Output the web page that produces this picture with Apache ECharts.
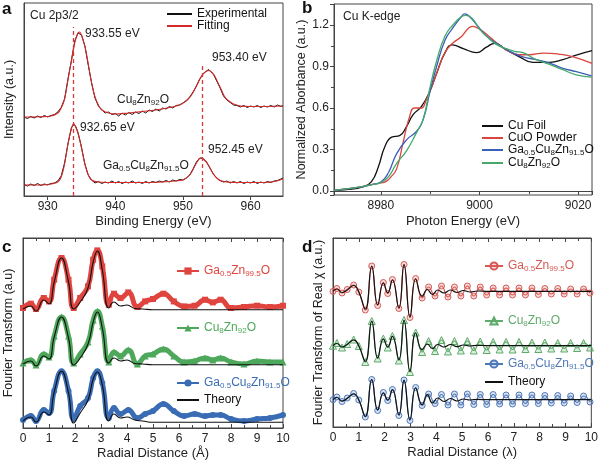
<!DOCTYPE html>
<html><head><meta charset="utf-8">
<script src="https://cdn.jsdelivr.net/npm/echarts@6/dist/echarts.min.js"></script>
<style>html,body{margin:0;padding:0;background:#fff}#c{width:601px;height:462px}</style>
</head><body><div id="c"></div>
<script>
// ---------- Panel a : XPS Cu 2p (binding energy eV, intensity a.u.) ----------
const aExpUpper = [[926.5,79],[927,77.5],[927.5,79.5],[928,78],[928.5,80],[929,78.5],[929.5,80.5],[930,79],[930.5,80.5],[931,81.5],[931.5,84],[932,88.5],[932.5,97],[933,117],[933.5,135],[934,155],[934.5,163],[934.7,164.5],[935,161],[935.5,150],[936,131],[936.5,113],[937,98],[937.5,90],[938,86.5],[938.5,83],[939,84],[939.5,81.5],[940,82.5],[940.5,80],[941,83],[941.5,81],[942,83.5],[942.5,81.5],[943,84],[943.5,82.5],[944,85],[944.5,83],[945,86],[945.5,84.5],[946,87],[946.5,85],[947,88],[947.5,87],[948,89.5],[948.5,88],[949,90.5],[949.5,91],[950,93],[950.5,95.5],[951,99],[951.5,104],[952,110],[952.5,117],[953,122.5],[953.5,125],[953.8,126.5],[954,124.5],[954.5,122],[955,115],[955.5,108],[956,100],[956.5,96],[957,93.5],[957.5,91],[958,90.5],[958.5,89],[959,90.5],[959.5,88.5],[960,90],[960.5,89],[961,90.5],[961.5,88.5],[962,90],[962.5,89],[963,90.5],[963.5,89],[964,91],[964.5,89.5],[964.8,90.5]];
const aFitUpper = [[926.5,79],[929,79.3],[930.5,80],[931.5,83],[932,88],[932.5,97],[933,116],[933.5,135],[934,153],[934.4,162],[934.7,164],[935,161],[935.5,150],[936,132],[936.5,113],[937,99],[937.5,91],[938,86],[939,83],[940,82],[942,83],[944,84.5],[946,86],[948,88.5],[949.5,91],[950.5,95],[951,98.5],[951.5,103.5],[952,110],[952.5,117],[953,122],[953.5,125],[953.8,125.5],[954.2,124],[954.7,120],[955.2,113],[955.7,106],[956.2,99],[956.8,95],[957.5,92],[958.5,90],[960,89.5],[964.8,90]];
const aExpLower = [[926.5,11.5],[927,10],[927.5,12],[928,10.5],[928.5,12.5],[929,10.5],[929.5,12],[930,11],[930.5,12.5],[931,13],[931.5,15],[932,20],[932.5,33],[933,52],[933.5,68],[933.85,72.5],[934.2,69],[934.5,63],[935,49],[935.5,32],[936,21],[936.5,16],[937,13],[937.5,14.5],[938,12.5],[938.5,14],[939,13],[939.5,15],[940,13],[940.5,14.5],[941,12.5],[941.5,14],[942,13],[942.5,15],[943,13],[943.5,14],[944,12.5],[944.5,14.5],[945,13],[945.5,14.5],[946,13.5],[946.5,15],[947,14],[947.5,15.5],[948,14],[948.5,16],[949,15],[949.5,16.5],[950,16],[950.5,18],[951,21],[951.5,27],[952,34],[952.5,38],[952.7,38.5],[953,37.5],[953.5,34],[954,28],[954.5,22],[955,18],[955.5,15.5],[956,14],[956.5,15],[957,13],[957.5,14.5],[958,13],[958.5,14.5],[959,12.5],[959.5,14],[960,13],[960.5,14.5],[961,12.5],[961.5,14],[962,13],[962.5,14.5],[963,13.5],[963.5,15],[964,15.5],[964.5,17],[964.8,18]];
const aFitLower = [[926.5,11],[929,11],[930.5,12],[931.5,14],[932,19],[932.5,32],[933,52],[933.5,67],[933.85,72],[934.2,68],[934.6,60],[935,48],[935.5,32],[936,21],[936.5,16],[937.5,14],[940,13.5],[945,13.5],[948,14.5],[950,16],[950.5,18],[951,21],[951.5,26.5],[952,33],[952.4,37],[952.7,38],[953,37],[953.5,33.5],[954,28],[954.5,22],[955,18],[955.5,15.5],[956.5,14],[958,13.5],[962,13.5],[963.5,14.5],[964.8,17]];
const aDashX = [933.85, 952.8];
const aDashTop = [169, 133];

// ---------- Panel b : Cu K-edge XANES ----------
const bCuFoil = [[8970.5,0.005],[8973,0.01],[8976.4,0.03],[8978.1,0.067],[8979.5,0.176],[8980.8,0.32],[8982.2,0.39],[8983.8,0.40],[8985.2,0.465],[8986.5,0.55],[8988.2,0.61],[8989.9,0.72],[8991.3,0.85],[8993,1.0],[8994.5,1.056],[8996.7,1.03],[8999.4,1.0],[9001.4,1.04],[9003.1,1.068],[9005.4,1.02],[9008.1,0.97],[9010.8,0.93],[9014.2,0.93],[9016.9,0.95],[9019.6,0.983],[9022.8,1.015]];
const bCuO = [[8970.5,0.005],[8973,0.015],[8976,0.03],[8978.5,0.05],[8980,0.058],[8981,0.068],[8982,0.1],[8983.2,0.16],[8984.5,0.35],[8985.8,0.535],[8986.8,0.6],[8988.2,0.6],[8989.2,0.66],[8990.5,0.77],[8991.5,0.87],[8993,1.0],[8994.6,1.07],[8996.3,1.115],[8997.7,1.175],[8998.6,1.19],[9000,1.17],[9002,1.115],[9004,1.055],[9006,1.01],[9008,0.985],[9010,0.985],[9013,0.997],[9016,0.99],[9019,0.97],[9022.8,0.923]];
const bGaCuZn = [[8970.5,0.005],[8973,0.015],[8976,0.03],[8978,0.045],[8980,0.065],[8981.5,0.13],[8983.2,0.27],[8985.2,0.37],[8987.2,0.43],[8988.6,0.52],[8989.9,0.71],[8991.3,0.9],[8993,1.09],[8994.6,1.18],[8996.3,1.26],[8997,1.28],[8998,1.26],[8999.7,1.19],[9001.4,1.12],[9003.4,1.07],[9006.1,1.01],[9008.8,0.97],[9011.5,0.95],[9014.2,0.925],[9016.9,0.887],[9019.6,0.863],[9022.7,0.832]];
const bCuZn = [[8970.5,0.005],[8973,0.015],[8976,0.03],[8978,0.045],[8980,0.06],[8981.5,0.1],[8983.2,0.2],[8985.2,0.29],[8987.2,0.42],[8988.6,0.52],[8989.9,0.74],[8991.3,0.94],[8993,1.12],[8994.6,1.2],[8996.3,1.26],[8997.3,1.27],[8998.7,1.24],[9000,1.17],[9001.7,1.11],[9003.4,1.06],[9005.4,1.03],[9007.1,1.01],[9008.8,1.0],[9011.5,0.95],[9014.2,0.915],[9016.9,0.877],[9019.6,0.84],[9022.7,0.823]];

// ---------- Panel c : Fourier transform magnitude (offset curves) ----------
const cX = [0,0.3,0.5,0.8,1.0,1.2,1.48,1.75,1.95,2.2,2.5,2.7,2.86,3.05,3.3,3.5,3.75,4.05,4.4,4.7,5.0,5.4,5.8,6.2,6.6,7.0,7.3,7.6,8.0,8.5,9.0,9.5,10];
const cGaZn = [120,124.3,119,130,126.6,148.3,170,148.3,120,130,141.6,168.3,177.6,161.6,123.3,134.3,130,135.6,121,126.6,129,134.3,126.6,121.6,122.3,128.3,125.6,128.3,120,121,122.3,121,122.3];
const cCuZn = [65,68,63,74,71,92,111,92,65,74,86,108,116.7,102,66,76,72,78,64,72,74,79,72,66,67,70,68,70,66,64,67,66,66];
const cGaCuZn = [8,12,7,18,15,37,56.7,37,9,22,30,50,56.7,45,10,20,14,18,10,14,17,24,17,12,14,12,13,13,9,7,9,10,13];
const cTX = [0,0.3,0.5,0.8,1.0,1.2,1.48,1.75,1.95,2.2,2.5,2.7,2.86,3.05,3.3,3.5,3.75,4.0,4.3,4.6,5.0,10];
const cThGaZn = [119,122,117,128,124,146,170,146,119,126,140,166,177,158,120,126,122,123,119.5,119,118.3,118.3];
const cThCuZn = [64,67,62,72,69,91,111,90,63,70,84,106,116,100,65,70,67,68,64.5,64,63.3,63.3];
const cThGaCuZn = [7,11,6,16,13,36,56.7,35,5,15,28,49,56,43,7,14,10,11,8,7,5.7,5.7];

// ---------- Panel d : real part of FT (offset curves) ----------
const dX = [0,0.15,0.35,0.55,0.8,1.0,1.25,1.5,1.73,1.95,2.12,2.3,2.55,2.75,2.98,3.2,3.45,3.7,3.95,4.2,4.45,4.7,4.95,5.2,5.45,5.7,5.95,6.2,6.45,6.7,6.95,7.2,7.45,7.7,7.95,8.2,8.45,8.7,8.95,9.2,9.45,9.7,9.95];
const dGaZn = [135.6,138.5,134,137.5,142,135,117,161,121.5,144.5,133.5,147.5,118.5,162.5,109.5,148.5,129,140,131,141,130,140,131,141,131,140,132,139,132,139,132,139,132,139,132.5,138.5,133,138.5,133,138,133,138,134];
const dCuZn = [81.3,84,79.5,83,87.5,81,65,106,68.5,88.5,79.5,91,66.5,107,55,94.5,75,86,76,87,75.5,86,76.5,86,76.5,85.5,77,85,77.5,85,77.5,85,78,84.5,78,84.5,78.5,84,78.5,84,79,84,79.5];
const dGaCuZn = [27.3,30,25.5,29,33.5,27,10,47.5,16.5,34.5,26.5,37.5,11.5,47,6.5,39.5,21.5,33,23.5,32.5,22,33,22,33,22.5,32.5,22.5,32.5,23,32,23,32,23.5,32,23.5,31.5,24,31.5,24,31,24.5,31,25];
const dTX = [0,0.15,0.35,0.55,0.8,1.0,1.25,1.5,1.73,1.95,2.12,2.3,2.55,2.75,2.98,3.2,3.45,3.65,3.85,4.05,4.3,4.55,4.8,5.05,5.3,5.6,6.0,10];
const dThGaZn = [135.6,138,134.5,137,141.5,135,118,160.6,122.3,144,134,147,119,162.3,110,148,130.6,137.5,132.5,137,134,137,134.5,136.5,135,136,135.6,135.6];
const dThCuZn = [81.3,83.5,80,82.5,87,81,65.6,105.6,69,88,80,90.6,67.3,106.6,55.6,94,77.3,83,78.5,82.5,80,82.5,80.3,82,81,81.7,81.3,81.3];
const dThGaCuZn = [27.3,29.5,26,28.5,33,27,10.6,47.3,17.3,34,27,37.3,12.3,46.6,7.3,39,22.3,32.3,24,29,25.5,28.5,26,28,27,27.6,27.3,27.3];

// ---------- helpers ----------
const FONT = 'Liberation Sans, Arial, sans-serif';
const zip = (xs, ys) => xs.map((x, i) => [x, ys[i]]);
const sub = parts => parts.map((p, i) => (i % 2 ? '{s|' + p + '}' : '{n|' + p + '}')).join('');
const richFor = c => ({ n: { fontSize: 12, lineHeight: 14, color: c, fontFamily: FONT }, s: { fontSize: 8, lineHeight: 7, verticalAlign: 'bottom', color: c, fontFamily: FONT } });
const labelParts = {
  GaZn: ['Ga', '0.5', 'Zn', '99.5', 'O'],
  CuZn: ['Cu', '8', 'Zn', '92', 'O'],
  GaCuZn: ['Ga', '0.5', 'Cu', '8', 'Zn', '91.5', 'O']
};
const AX = '#444';

const colB = { foil: '#111111', cuo: '#d9463f', gcz: '#3a5fb8', cz: '#46a86b' };
const colC = { r: '#e0443e', g: '#4ea85c', b: '#3a6cb5' };
const colD = { r: '#d65a55', g: '#5fab6c', b: '#4f78b8' };

const grids = [
  { left: 24, top: 3, width: 259, height: 193 },
  { left: 334, top: 4, width: 258, height: 191 },
  { left: 23, top: 238, width: 260, height: 190 },
  { left: 333, top: 238, width: 260, height: 189 }
].map(g => Object.assign(g, { show: true, borderColor: AX, borderWidth: 1, containLabel: false }));

const plain = v => String(Math.round(v * 100) / 100);
const baseX = {
  type: 'value',
  axisLine: { show: true, lineStyle: { color: AX } },
  axisLabel: { color: '#222', fontSize: 12, fontFamily: FONT, margin: 5, showMinLabel: false, showMaxLabel: false, formatter: plain },
  splitLine: { show: false },
  nameLocation: 'middle',
  nameTextStyle: { color: '#222', fontSize: 13, fontFamily: FONT }
};
const topAxis = gi => ({ type: 'value', gridIndex: gi, position: 'top', min: 0, max: 10, interval: 1, axisLabel: { show: false }, splitLine: { show: false },
  axisLine: { show: true, lineStyle: { color: AX } }, axisTick: { show: true, inside: true, length: 4, lineStyle: { color: AX } },
  minorTick: { show: true, splitNumber: 2, length: 3, lineStyle: { color: AX } } });

const xAxes = [
  Object.assign({}, baseX, { gridIndex: 0, min: 926.5, max: 964.8, splitNumber: 4, name: 'Binding Energy (eV)', nameGap: 19,
    axisTick: { show: true, inside: false, length: 4, lineStyle: { color: AX } } }),
  Object.assign({}, baseX, { gridIndex: 1, min: 8970.5, max: 9022.8, splitNumber: 3, name: 'Photon Energy (eV)', nameGap: 20,
    axisTick: { show: true, inside: false, length: 4, lineStyle: { color: AX } },
    minorTick: { show: true, splitNumber: 2, length: 3, lineStyle: { color: AX } } }),
  Object.assign({}, baseX, { gridIndex: 2, min: 0, max: 10, interval: 1, name: 'Radial Distance (Å)', nameGap: 19,
    axisLabel: Object.assign({}, baseX.axisLabel, { showMinLabel: true, showMaxLabel: true }),
    axisTick: { show: true, inside: true, length: 4, lineStyle: { color: AX } },
    minorTick: { show: true, splitNumber: 2, length: 3, lineStyle: { color: AX } } }),
  Object.assign({}, baseX, { gridIndex: 3, min: 0, max: 10, interval: 1, name: 'Radial Distance (λ)', nameGap: 19,
    axisLabel: Object.assign({}, baseX.axisLabel, { showMinLabel: true, showMaxLabel: true }),
    axisTick: { show: true, inside: true, length: 4, lineStyle: { color: AX } },
    minorTick: { show: true, splitNumber: 2, length: 3, lineStyle: { color: AX } } }),
  topAxis(2),
  topAxis(3)
];

const hiddenY = (gi, max, name, gap) => ({
  type: 'value', gridIndex: gi, min: 0, max: max, name: name, nameLocation: 'middle', nameGap: gap, nameRotate: 90,
  nameTextStyle: { color: '#222', fontSize: 12.5, fontFamily: FONT },
  axisLine: { show: true, lineStyle: { color: AX } }, axisTick: { show: false }, axisLabel: { show: false }, splitLine: { show: false }
});
const yAxes = [
  hiddenY(0, 193, 'Intensity (a.u.)', 8),
  { type: 'value', gridIndex: 1, min: -0.029, max: 1.352, splitNumber: 5, name: 'Normalized Aborbance (a.u.)', nameLocation: 'middle', nameGap: 25, nameRotate: 90,
    nameTextStyle: { color: '#222', fontSize: 12.5, fontFamily: FONT },
    axisLine: { show: true, lineStyle: { color: AX } },
    axisTick: { show: true, inside: false, length: 4, lineStyle: { color: AX } },
    minorTick: { show: true, splitNumber: 2, length: 3, lineStyle: { color: AX } },
    axisLabel: { color: '#222', fontSize: 12, fontFamily: FONT, margin: 5, showMinLabel: false, showMaxLabel: false, formatter: v => v.toFixed(1) },
    splitLine: { show: false } },
  hiddenY(2, 190, 'Fourier Transform (a.u)', 8),
  hiddenY(3, 189, 'Fourier Transform of Real χ (a.u.)', 8)
];

const line = (name, xi, yi, data, color, width, extra) => Object.assign({
  name, type: 'line', xAxisIndex: xi, yAxisIndex: yi, data, showSymbol: false, symbol: 'none',
  lineStyle: { color, width }, itemStyle: { color }, smooth: false, animation: false, z: 2
}, extra || {});

const series = [
  line('Experimental', 0, 0, aExpUpper, '#111', 1, {}),
  line('Fitting', 0, 0, aFitUpper, '#d42a2a', 1.1, { smooth: 0.4, z: 3,
    markLine: { silent: true, animation: false, symbol: ['none', 'none'], label: { show: false },
      lineStyle: { type: [4, 3], color: '#d8383a', width: 1.3 },
      data: aDashX.map((x, i) => [{ coord: [x, 0] }, { coord: [x, aDashTop[i]] }]) } }),
  line('Experimental', 0, 0, aExpLower, '#111', 1, {}),
  line('Fitting', 0, 0, aFitLower, '#d42a2a', 1.1, { smooth: 0.4, z: 3 }),

  line('Cu Foil', 1, 1, bCuFoil, colB.foil, 1.3, { smooth: 0.5 }),
  line('CuO Powder', 1, 1, bCuO, colB.cuo, 1.3, { smooth: 0.5 }),
  line('bGaCuZn', 1, 1, bGaCuZn, colB.gcz, 1.3, { smooth: 0.5 }),
  line('bCuZn', 1, 1, bCuZn, colB.cz, 1.3, { smooth: 0.5 }),

  line('cGaZn', 2, 2, zip(cX, cGaZn), colC.r, 5, { smooth: 0.5, showSymbol: true, symbol: 'rect', symbolSize: 6 }),
  line('cCuZn', 2, 2, zip(cX, cCuZn), colC.g, 5, { smooth: 0.5, showSymbol: true, symbol: 'triangle', symbolSize: 7 }),
  line('cGaCuZn', 2, 2, zip(cX, cGaCuZn), colC.b, 5, { smooth: 0.5, showSymbol: true, symbol: 'circle', symbolSize: 6 }),
  line('cTheory', 2, 2, zip(cTX, cThGaZn), '#111', 1.1, { smooth: 0.5, z: 5 }),
  line('cTheory', 2, 2, zip(cTX, cThCuZn), '#111', 1.1, { smooth: 0.5, z: 5 }),
  line('cTheory', 2, 2, zip(cTX, cThGaCuZn), '#111', 1.1, { smooth: 0.5, z: 5 }),

  line('dGaZn', 3, 3, zip(dX, dGaZn), colD.r, 1.2, { smooth: 0.5, showSymbol: true, symbol: 'circle', symbolSize: 6,
    itemStyle: { color: 'rgba(214,90,85,0.22)', borderColor: colD.r, borderWidth: 1 } }),
  line('dCuZn', 3, 3, zip(dX, dCuZn), colD.g, 1.2, { smooth: 0.5, showSymbol: true, symbol: 'triangle', symbolSize: 7,
    itemStyle: { color: 'rgba(95,171,108,0.22)', borderColor: colD.g, borderWidth: 1 } }),
  line('dGaCuZn', 3, 3, zip(dX, dGaCuZn), colD.b, 1.2, { smooth: 0.5, showSymbol: true, symbol: 'circle', symbolSize: 6,
    itemStyle: { color: 'rgba(79,120,184,0.22)', borderColor: colD.b, borderWidth: 1 } }),
  line('dTheory', 3, 3, zip(dTX, dThGaZn), '#111', 1.2, { smooth: 0.5, z: 5 }),
  line('dTheory', 3, 3, zip(dTX, dThCuZn), '#111', 1.2, { smooth: 0.5, z: 5 }),
  line('dTheory', 3, 3, zip(dTX, dThGaCuZn), '#111', 1.2, { smooth: 0.5, z: 5 })
];

const legendText = {
  bGaCuZn: sub(labelParts.GaCuZn), bCuZn: sub(labelParts.CuZn),
  cGaZn: sub(labelParts.GaZn), cCuZn: sub(labelParts.CuZn), cGaCuZn: sub(labelParts.GaCuZn), cTheory: '{n|Theory}',
  dGaZn: sub(labelParts.GaZn), dCuZn: sub(labelParts.CuZn), dGaCuZn: sub(labelParts.GaCuZn), dTheory: '{n|Theory}'
};
const fmt = n => legendText[n] || ('{n|' + n + '}');
const mkLegend = (names, left, top, w, color, lineOnly) => Object.assign({
  data: names, left, top, orient: 'vertical', itemWidth: w, itemHeight: 9, itemGap: 0, padding: 0,
  selectedMode: false, formatter: fmt, textStyle: { color, fontSize: 12, fontFamily: FONT, rich: richFor(color) }
}, lineOnly ? { itemStyle: { opacity: 0 } } : {});
const legends = [
  mkLegend(['Experimental', 'Fitting'], 166, 8, 25, '#111', true),
  mkLegend(['Cu Foil', 'CuO Powder', 'bGaCuZn', 'bCuZn'], 481, 120, 21, '#111', true),
  mkLegend(['cGaZn'], 176, 265, 22, colC.r),
  mkLegend(['cCuZn'], 176, 322, 22, colC.g),
  mkLegend(['cGaCuZn'], 176, 377, 22, colC.b),
  mkLegend(['cTheory'], 176, 394, 22, '#111', true),
  mkLegend(['dGaZn'], 484, 260, 18, colD.r),
  mkLegend(['dCuZn'], 484, 315, 18, colD.g),
  mkLegend(['dGaCuZn'], 484, 358, 18, colD.b),
  mkLegend(['dTheory'], 484, 376, 18, '#111', true)
];

const txt = (x, y, text, size, color, bold, rich) => ({
  type: 'text', x, y, silent: true,
  style: { text, fill: color || '#222', font: (bold ? 'bold ' : '') + size + 'px ' + FONT, verticalAlign: 'middle', rich: rich }
});
const graphics = [
  txt(2, 9, 'a', 17, '#111', true),
  txt(302, 8, 'b', 17, '#111', true),
  txt(2, 247, 'c', 17, '#111', true),
  txt(302, 247, 'd', 17, '#111', true),
  txt(30, 16, 'Cu 2p3/2', 12, '#222'),
  txt(85, 34, '933.55 eV', 12, '#222'),
  txt(212, 58, '953.40 eV', 12, '#222'),
  txt(80, 128, '932.65 eV', 12, '#222'),
  txt(208, 150, '952.45 eV', 12, '#222'),
  txt(117, 100, sub(labelParts.CuZn), 12, '#222', false, richFor('#222')),
  txt(103, 166, sub(labelParts.GaCuZn), 12, '#222', false, richFor('#222')),
  txt(343, 17, 'Cu K-edge', 12, '#222')
];

const chart = echarts.init(document.getElementById('c'), null, { renderer: 'canvas' });
chart.setOption({
  animation: false,
  textStyle: { fontFamily: FONT },
  grid: grids,
  xAxis: xAxes,
  yAxis: yAxes,
  legend: legends,
  series: series,
  graphic: graphics
});
</script></body></html>
